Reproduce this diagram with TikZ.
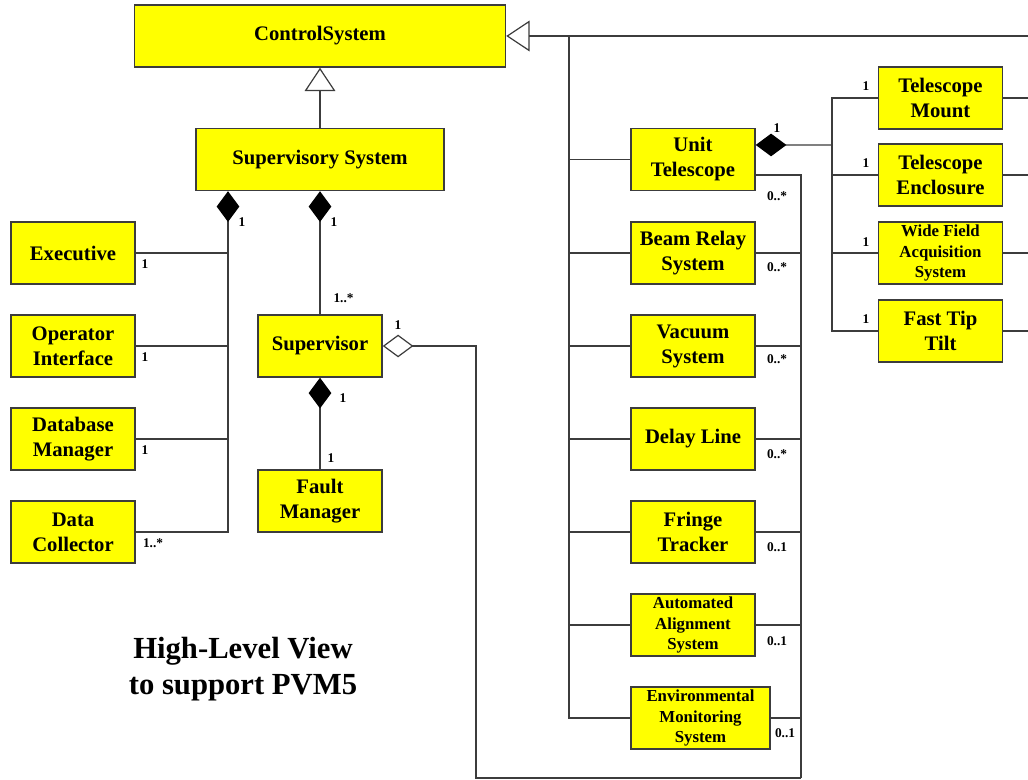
\documentclass[tikz,border=0pt]{standalone}
\usepackage{fontspec}
\setmainfont{Liberation Serif}
\usetikzlibrary{arrows.meta}
\definecolor{boxyellow}{RGB}{255,255,0}
\definecolor{linegray}{RGB}{60,60,60}
\tikzset{
  cls/.style={draw=linegray, line width=1.1pt, fill=boxyellow, align=center, inner sep=0pt,
    minimum width=93pt, minimum height=46.5pt,
    font=\fontsize{15.5}{18.7}\selectfont\bfseries},
  clssmall/.style={cls, font=\fontsize{12.6}{15.4}\selectfont\bfseries},
  conn/.style={draw=linegray, line width=0.9pt},
  gen/.style={conn, -{Triangle[open, length=17.5pt, width=23pt, fill=white]}},
  comp/.style={conn, {Diamond[length=23pt, width=17pt, fill=black, color=black]}-},
  aggr/.style={conn, {Diamond[open, length=23pt, width=17pt, fill=white]}-},
  mult/.style={inner sep=0pt, font=\fontsize{10}{12}\selectfont\bfseries},
  titletext/.style={align=center, inner sep=0pt, font=\fontsize{23}{26.5}\selectfont\bfseries}
}
\begin{document}
\begin{tikzpicture}[x=0.75pt, y=-0.75pt]
\useasboundingbox[fill=white] (0,0) rectangle (1028,780);

% classes
\node[cls, minimum width=278.25pt] (cs) at (320,36) {ControlSystem};
\node[cls, minimum width=186pt] (ss) at (320,159.5) {Supervisory System};
\node[cls] (ex) at (73,253) {Executive};
\node[cls] (oi) at (73,346) {Operator\\Interface};
\node[cls] (dbm) at (73,439) {Database\\Manager};
\node[cls] (dc) at (73,532) {Data\\Collector};
\node[cls] (sup) at (320,346) {Supervisor};
\node[cls] (fm) at (320,501) {Fault\\Manager};

\node[cls] (ut) at (693,159.5) {Unit\\Telescope};
\node[cls] (br) at (693,253) {Beam Relay\\System};
\node[cls] (vs) at (693,346) {Vacuum\\System};
\node[cls] (dl) at (693,439) {Delay Line};
\node[cls] (ft) at (693,532) {Fringe\\Tracker};
\node[clssmall] (aas) at (693,625) {Automated\\Alignment\\System};
\node[clssmall, minimum width=104.25pt] (ems) at (700.5,718) {Environmental\\Monitoring\\System};

\node[cls] (tm) at (940.5,98) {Telescope\\Mount};
\node[cls] (te) at (940.5,175) {Telescope\\Enclosure};
\node[clssmall] (wfa) at (940.5,253) {Wide Field\\Acquisition\\System};
\node[cls] (ftt) at (940.5,331) {Fast Tip\\Tilt};

\node[titletext] (title) at (243,669) {High-Level View\\to support PVM5};

% helper coordinates
\coordinate (rEdge) at (1028,36);
\coordinate (bL) at (228,532);
\coordinate (bR) at (569,36);
\coordinate (bB) at (801,778);
\coordinate (aggTurn) at (476,778);
\coordinate (bT) at (832,145);

% generalizations
\draw[gen] (ss.north) -- (cs.south);
\draw[gen] (rEdge) -- (cs.east);

% supervisory system compositions
\draw[comp] (bL |- ss.south) |- (dc.east);
\draw[conn] (ex.east) -- (ex.east -| bL);
\draw[conn] (oi.east) -- (oi.east -| bL);
\draw[conn] (dbm.east) -- (dbm.east -| bL);
\draw[comp] (ss.south) -- (sup.north);
\draw[comp] (sup.south) -- (fm.north);

% supervisor aggregation
\draw[aggr] (sup.east) -| (aggTurn) -- (bB);

% control system subclasses
\draw[conn] (bR) |- (ems.west);
\draw[conn] (ut.west) -- (ut.west -| bR);
\draw[conn] (br.west) -- (br.west -| bR);
\draw[conn] (vs.west) -- (vs.west -| bR);
\draw[conn] (dl.west) -- (dl.west -| bR);
\draw[conn] (ft.west) -- (ft.west -| bR);
\draw[conn] (aas.west) -- (aas.west -| bR);

% right bus into aggregation
\draw[conn] ([yshift=-11.6pt]ut.east) -| (bB);
\draw[conn] (br.east) -- (br.east -| bB);
\draw[conn] (vs.east) -- (vs.east -| bB);
\draw[conn] (dl.east) -- (dl.east -| bB);
\draw[conn] (ft.east) -- (ft.east -| bB);
\draw[conn] (aas.east) -- (aas.east -| bB);
\draw[conn] (ems.east) -- (ems.east -| bB);

% unit telescope composition
\draw[comp] ([yshift=10.9pt]ut.east) -- (bT);
\draw[conn] (tm.west) -| (bT);
\draw[conn] (ftt.west) -| (bT);
\draw[conn] (te.west) -- (te.west -| bT);
\draw[conn] (wfa.west) -- (wfa.west -| bT);
\draw[conn] (tm.east) -- (tm.east -| rEdge);
\draw[conn] (te.east) -- (te.east -| rEdge);
\draw[conn] (wfa.east) -- (wfa.east -| rEdge);
\draw[conn] (ftt.east) -- (ftt.east -| rEdge);

% multiplicities
\node[mult] (m1) at (242,222) {1};
\node[mult] (m2) at (334,222) {1};
\node[mult] (m3) at (145,264) {1};
\node[mult] (m4) at (145,357) {1};
\node[mult] (m5) at (145,450) {1};
\node[mult] (m6) at (153,543) {1..*};
\node[mult] (m7) at (343.5,298) {1..*};
\node[mult] (m8) at (398,325) {1};
\node[mult] (m9) at (343,398) {1};
\node[mult] (m10) at (331,458) {1};
\node[mult] (m11) at (777,128) {1};
\node[mult] (m12) at (777,196) {0..*};
\node[mult] (m13) at (777,267) {0..*};
\node[mult] (m14) at (777,359) {0..*};
\node[mult] (m15) at (777,454) {0..*};
\node[mult] (m16) at (777,547) {0..1};
\node[mult] (m17) at (777,641) {0..1};
\node[mult] (m18) at (785,733) {0..1};
\node[mult] (m19) at (866,86) {1};
\node[mult] (m20) at (866,163) {1};
\node[mult] (m21) at (866,242) {1};
\node[mult] (m22) at (866,319) {1};
\end{tikzpicture}
\end{document}
